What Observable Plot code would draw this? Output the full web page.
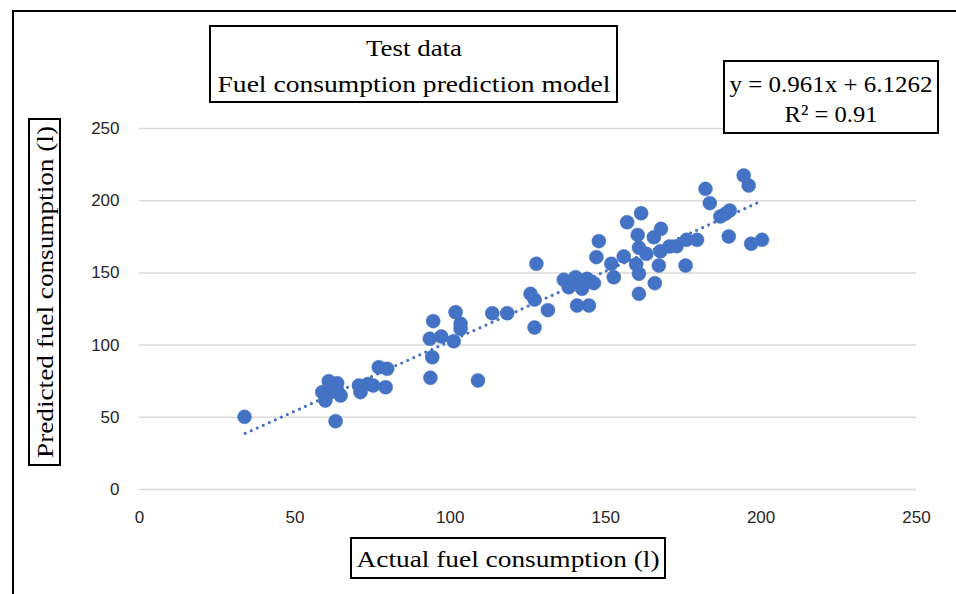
<!DOCTYPE html>
<html>
<head>
<meta charset="utf-8">
<script src="https://cdn.jsdelivr.net/npm/d3@7"></script>
<script src="https://cdn.jsdelivr.net/npm/@observablehq/plot@0.6"></script>
<style>
  html, body { margin: 0; padding: 0; background: #fff; }
  #wrap { position: relative; width: 956px; height: 594px; overflow: hidden; }
  .box { position: absolute; border: 2px solid #000; background: #fff; box-sizing: border-box;
         font-family: "Liberation Serif", "DejaVu Serif", serif; color: #000; text-align: center; }
  .frame { position: absolute; left: 12px; top: 10px; width: 1000px; height: 700px;
           border-left: 2px solid #000; border-top: 2px solid #000; }
</style>
</head>
<body>
<div id="wrap">
  <div class="frame"></div>
  <div id="chart"></div>
</div>
<script>
// Data (actual vs predicted fuel consumption, litres)
const actual = [33.8, 60.9, 63.6, 58.8, 61.5, 64.7, 59.8, 63.6, 61.5, 63.1,
  70.6, 73.5, 75.2, 71.1, 79.2, 77.0, 79.7, 94.5, 101.7, 93.4,
  97.1, 103.3, 103.3, 101.1, 94.2, 93.6, 108.9, 113.5, 118.3, 125.8,
  127.1, 131.4, 127.1, 127.7, 136.5, 140.3, 144.0, 138.1, 142.4, 146.2,
  140.8, 144.6, 147.8, 147.0, 151.8, 152.6, 155.8, 156.9, 160.3, 161.4,
  160.7, 163.1, 159.8, 160.7, 160.7, 165.5, 167.8, 167.6, 170.5, 167.1,
  165.8, 176.0, 179.4, 175.7, 182.1, 183.5, 186.9, 188.5, 189.9, 189.6,
  194.4, 196.0, 196.8, 200.3, 172.8, 141.5];
const predicted = [50.3, 75.0, 73.6, 67.4, 67.4, 65.1, 61.6, 68.6, 72.0, 47.3,
  72.0, 73.0, 72.0, 67.4, 70.8, 84.7, 83.6, 116.6, 122.8, 104.4,
  106.0, 114.8, 111.3, 102.7, 91.6, 77.4, 75.5, 122.1, 122.1, 135.5,
  131.5, 124.2, 112.2, 156.3, 145.2, 147.0, 145.9, 140.1, 139.0, 142.9,
  127.4, 127.4, 172.0, 160.9, 156.3, 147.0, 161.4, 185.1, 176.3, 191.3,
  167.4, 163.2, 156.0, 149.4, 135.5, 174.7, 180.5, 165.0, 168.3, 155.1,
  142.9, 172.9, 172.9, 155.1, 208.2, 198.3, 189.1, 190.9, 193.2, 175.2,
  217.5, 210.5, 170.2, 172.9, 168.5, 143.0];

// Linear trendline end points
const trendX = [34.0, 200.3];
const trendY = [38.8, 199.9];

const tickValues = [0, 50, 100, 150, 200, 250];

const titleLines = ["Test data", "Fuel consumption prediction model"];
const equationLines = ["y = 0.961x + 6.1262", "R² = 0.91"];
const xTitle = "Actual fuel consumption (l)";
const yTitle = "Predicted fuel consumption (l)";

const points = actual.map((a, i) => ({a, p: predicted[i]}));
const trend = trendX.map((x, i) => ({x, y: trendY[i]}));

const chart = Plot.plot({
  width: 956,
  height: 594,
  marginLeft: 139,
  marginRight: 40,
  marginTop: 128,
  marginBottom: 105,
  style: {fontFamily: "'Liberation Sans', 'Noto Sans', sans-serif", fontSize: "17px", color: "#262626", background: "transparent"},
  x: {domain: [0, 250], ticks: tickValues, label: null},
  y: {domain: [0, 250], ticks: tickValues, label: null},
  marks: [
    Plot.gridY(tickValues, {stroke: "#d9d9d9", strokeOpacity: 1, strokeWidth: 1.5}),
    Plot.axisX({ticks: tickValues, tickSize: 0, tickPadding: 21, label: null, fontSize: 17}),
    Plot.axisY({ticks: tickValues, tickSize: 0, tickPadding: 20, label: null, fontSize: 17}),
    Plot.line(trend, {x: "x", y: "y", stroke: "#4472c4", strokeWidth: 3, strokeDasharray: "0.1 6.5", strokeLinecap: "round"}),
    Plot.dot(points, {x: "a", y: "p", r: 7, fill: "#4472c4", stroke: "#4472c4", strokeWidth: 0.5})
  ]
});
document.getElementById("chart").appendChild(chart);

const wrap = document.getElementById("wrap");
// lines: text, top offset, target width (px) of the rendered text
function addBox(left, top, w, h, lines, lineTops, widths, fontSize, rotate) {
  const b = document.createElement("div");
  b.className = "box";
  Object.assign(b.style, {left: left + "px", top: top + "px", width: w + "px", height: h + "px"});
  wrap.appendChild(b);
  lines.forEach((t, i) => {
    const s = document.createElement("span");
    s.textContent = t;
    Object.assign(s.style, {position: "absolute", display: "inline-block", left: "50%", top: (rotate ? "50%" : lineTops[i] + "px"),
      fontSize: fontSize + "px", lineHeight: "1", whiteSpace: "nowrap"});
    b.appendChild(s);
    const natural = s.getBoundingClientRect().width;
    const k = widths[i] / natural;
    s.style.transform = rotate
      ? `translate(-50%, -50%) rotate(-90deg) scaleX(${k})`
      : `translateX(-50%) scaleX(${k})`;
  });
}
addBox(209, 25, 409, 78, titleLines, [9, 45], [96, 393], 24);
addBox(723, 60, 216, 74, equationLines, [10, 40], [203, 93], 24);
addBox(350, 537, 316, 42, [xTitle], [8], [303], 24);
addBox(28, 118, 33, 348, [yTitle], [0], [332], 24, true);
</script>
</body>
</html>
